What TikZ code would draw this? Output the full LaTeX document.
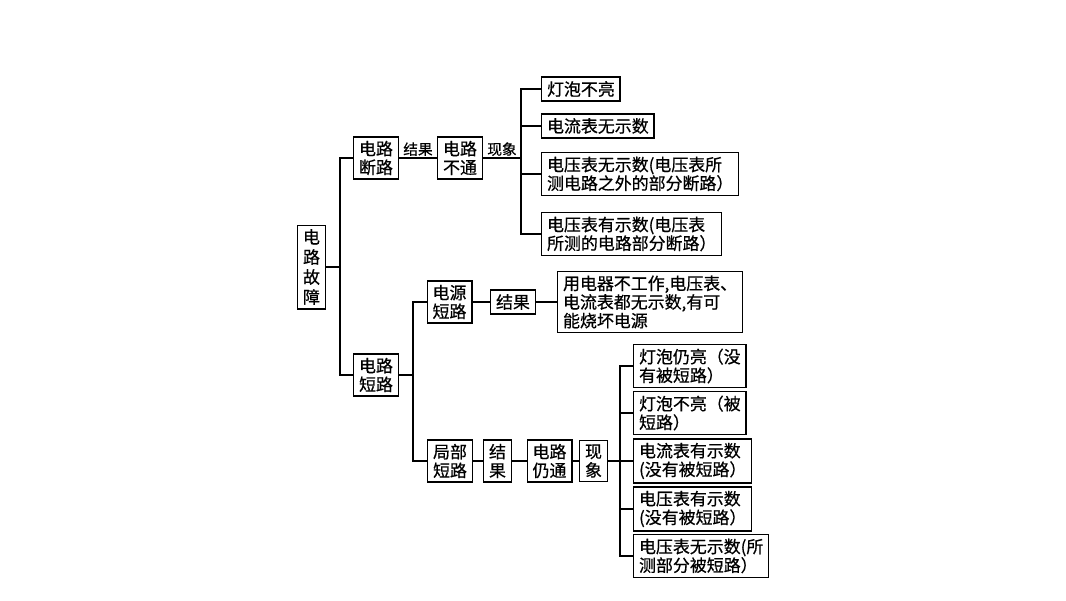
\documentclass[tikz,border=0pt]{standalone}
\usepackage{fontspec}
\newfontfamily\cjk[FakeBold=0.6]{Noto Sans CJK SC}

\tikzset{
  kuang/.style={draw, line width=1.1pt, inner xsep=4pt, inner ysep=3pt, align=left, font=\cjk\fontsize{12.7}{14}\selectfont},
  leaf/.style={kuang, anchor=west},
  biao/.style={font=\cjk\fontsize{11}{13}\selectfont, inner sep=1pt, above},
}

\begin{document}
\begin{tikzpicture}[x=0.75pt,y=0.75pt,yscale=-1,line width=1.1pt]
\useasboundingbox (0,0) rectangle (1066,600);

% root
\node[kuang, font=\cjk\fontsize{12.7}{15}\selectfont, align=center] (guzhang) at (311.5,267) {电\\路\\故\\障};
\coordinate (b0) at (340,267);
\node[kuang] (duanlu) at (376,158) {电路\\断路};
\node[kuang] (duanlu2) at (376,375) {电路\\短路};
\draw (guzhang) -- (b0);
\draw (duanlu.west) -| (b0) |- (duanlu2.west);

% open circuit
\node[kuang] (butong) at (460,158) {电路\\不通};
\coordinate (b1) at (521,158);
\draw (duanlu) -- node[biao]{结果} (butong);
\draw (butong) -- node[biao]{现象} (b1);
\node[leaf] (l1) at (541,89) {灯泡不亮};
\node[leaf] (l2) at (541,126) {电流表无示数};
\node[leaf] (l3) at (541,174) {电压表无示数(电压表所\\测电路之外的部分断路）};
\node[leaf] (l4) at (541,234) {电压表有示数(电压表\\所测的电路部分断路）};
\draw (l1.west) -| (b1) |- (l4.west);
\draw (b1 |- l2) -- (l2.west);
\draw (b1 |- l3) -- (l3.west);

% short circuit
\coordinate (b2) at (413,375);
\node[kuang] (dyduanlu) at (449.5,302) {电源\\短路};
\node[kuang] (jubu) at (450,461) {局部\\短路};
\draw (duanlu2) -- (b2);
\draw (dyduanlu.west) -| (b2) |- (jubu.west);

\node[kuang] (jieguo) at (513,302) {结果};
\node[leaf] (shaohuai) at (557,302) {用电器不工作,电压表、\\电流表都无示数,有可\\能烧坏电源};
\draw (dyduanlu) -- (jieguo);
\draw (jieguo) -- (shaohuai);

% local short
\node[kuang] (jieguo2) at (497.5,461) {结\\果};
\node[kuang] (rengtong) at (549.5,461) {电路\\仍通};
\node[kuang] (xianxiang) at (593.5,461) {现\\象};
\coordinate (b3) at (620,461);
\draw (jubu) -- (jieguo2);
\draw (jieguo2) -- (rengtong);
\draw (rengtong) -- (xianxiang);
\draw (xianxiang) -- (b3);
\node[leaf] (m1) at (633,366) {灯泡仍亮（没\\有被短路）};
\node[leaf] (m2) at (633,413) {灯泡不亮（被\\短路）};
\node[leaf] (m3) at (633,461) {电流表有示数\\(没有被短路）};
\node[leaf] (m4) at (633,509) {电压表有示数\\(没有被短路）};
\node[leaf] (m5) at (633,556) {电压表无示数(所\\测部分被短路）};
\draw (m1.west) -| (b3) |- (m5.west);
\draw (b3 |- m2) -- (m2.west);
\draw (b3) -- (m3.west);
\draw (b3 |- m4) -- (m4.west);

\end{tikzpicture}
\end{document}
